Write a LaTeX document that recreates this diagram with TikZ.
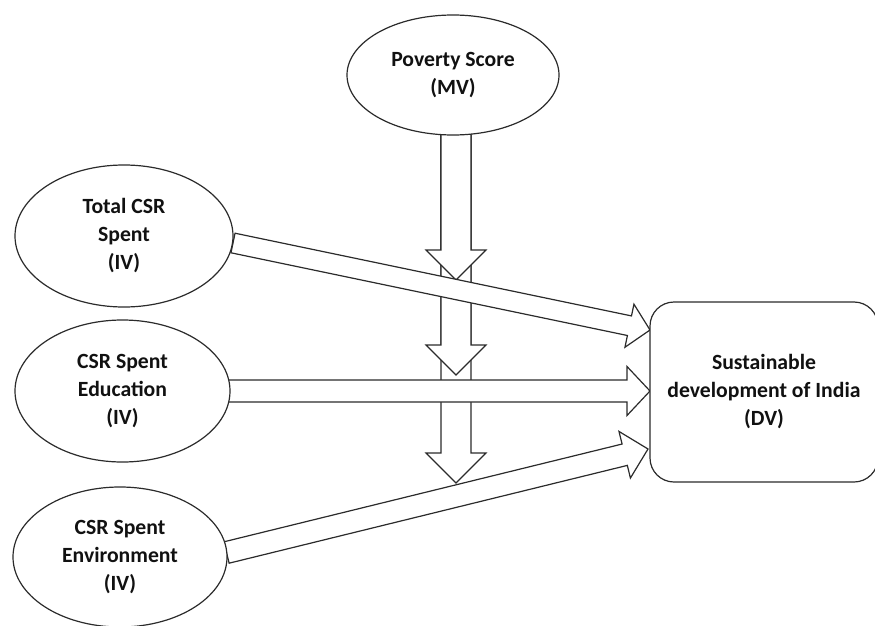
\documentclass[tikz,border=0pt]{standalone}
\usepackage{fontspec}
\setmainfont{Carlito}
\usetikzlibrary{shapes.geometric,calc,backgrounds}
\definecolor{linecol}{HTML}{2B2B2B}
\definecolor{txtcol}{HTML}{111111}
\newcommand{\lblfont}{\fontsize{21.7}{28}\selectfont\bfseries}
% block arrow: #1 name, #2 from, #3 to, #4 half shaft, #5 half head, #6 head length
\newcommand{\blockarrow}[6]{%
  \coordinate (#1h) at ($(#3)!#6!(#2)$);
  \draw[blockarr] ($(#2)!#4!90:(#3)$) -- ($(#1h)!#4!-90:(#2)$) -- ($(#1h)!#5!-90:(#2)$)
    -- (#3) -- ($(#1h)!#5!90:(#2)$) -- ($(#1h)!#4!90:(#2)$) -- ($(#2)!#4!-90:(#3)$) -- cycle;
}
\tikzset{
  ell/.style={ellipse, draw=linecol, line width=1.2pt, fill=white, inner sep=0pt,
    align=center, font=\lblfont, text=txtcol},
  dvbox/.style={rectangle, rounded corners=24pt, draw=linecol, line width=1.2pt, fill=white,
    inner sep=0pt, align=center, font=\lblfont, text=txtcol},
  blockarr/.style={draw=linecol, line width=1.2pt, fill=white, line join=miter}
}
\begin{document}
\begin{tikzpicture}[x=1pt,y=-1pt]
\useasboundingbox (0,0) rectangle (875,626);

\node[ell, minimum width=212pt, minimum height=120pt] (pov) at (453,75) {Poverty Score\\(MV)};
\node[ell, minimum width=218pt, minimum height=142pt] (tcsr) at (124,236) {Total CSR\\Spent\\(IV)};
\node[ell, minimum width=215pt, minimum height=142pt] (edu) at (122.5,391) {CSR Spent\\Education\\(IV)};
\node[ell, minimum width=214pt, minimum height=140pt] (env) at (120,557) {CSR Spent\\Environment\\(IV)};
\node[dvbox, minimum width=228pt, minimum height=180pt] (dv) at (764,392) {Sustainable\\development of India\\(DV)};

% connector end points
\coordinate (vs) at (456,110);
\coordinate (v1) at (456,280);
\coordinate (v2) at (456,375);
\coordinate (v3) at (456,483);
\coordinate (ts) at (233,243);
\coordinate (te) at (650,330);
\coordinate (es) at (228,391);
\coordinate (ee) at (650,391);
\coordinate (ns) at (226.5,552.5);
\coordinate (ne) at (648,449);

\begin{pgfonlayer}{background}
  \blockarrow{av3}{vs}{v3}{15pt}{30pt}{30pt}
  \blockarrow{av2}{vs}{v2}{15pt}{30pt}{30pt}
  \blockarrow{av1}{vs}{v1}{15pt}{30pt}{30pt}
  \blockarrow{at}{ts}{te}{10pt}{22pt}{21pt}
  \blockarrow{ae}{es}{ee}{11pt}{24.5pt}{23pt}
  \blockarrow{an}{ns}{ne}{11pt}{24pt}{24pt}
\end{pgfonlayer}
\end{tikzpicture}
\end{document}
